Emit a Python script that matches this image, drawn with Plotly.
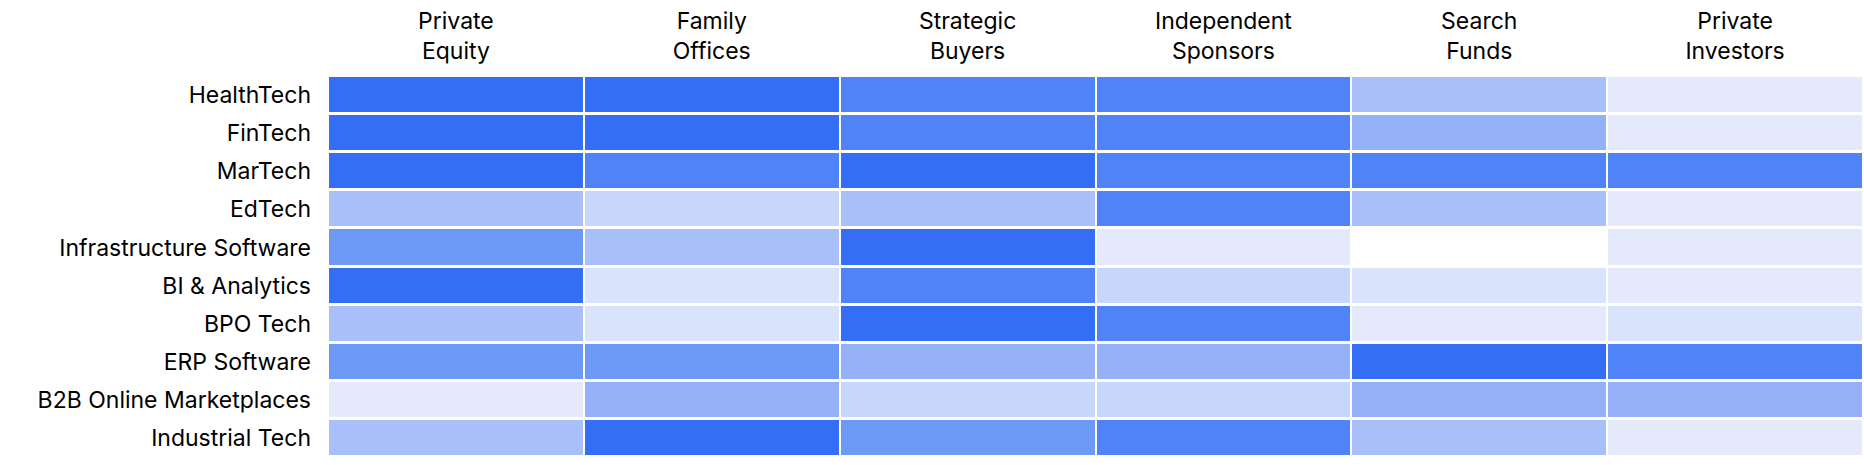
import plotly.graph_objects as go

sectors = ["HealthTech", "FinTech", "MarTech", "EdTech", "Infrastructure Software",
           "BI & Analytics", "BPO Tech", "ERP Software", "B2B Online Marketplaces",
           "Industrial Tech"]
buyers = ["Private<br>Equity", "Family<br>Offices", "Strategic<br>Buyers",
          "Independent<br>Sponsors", "Search<br>Funds", "Private<br>Investors"]

# interest level 0 (none) .. 8 (highest), one row per sector
healthtech = [8, 8, 7, 7, 4, 1]
fintech = [8, 8, 7, 7, 5, 1]
martech = [8, 7, 8, 7, 7, 7]
edtech = [4, 3, 4, 7, 4, 1]
infra_software = [6, 4, 8, 1, 0, 1]
bi_analytics = [8, 2, 7, 3, 2, 1]
bpo_tech = [4, 2, 8, 7, 1, 2]
erp_software = [6, 6, 5, 5, 8, 7]
b2b_marketplaces = [1, 5, 3, 3, 5, 5]
industrial_tech = [4, 8, 6, 7, 4, 1]

levels_colors = ["#FFFFFF", "#E4EAFC", "#D9E4FC", "#C7D6FB", "#A8BFF9",
                 "#94B1F8", "#6C98F6", "#5083F8", "#336EF5"]

z = [healthtech, fintech, martech, edtech, infra_software, bi_analytics,
     bpo_tech, erp_software, b2b_marketplaces, industrial_tech]

n = len(levels_colors) - 1
colorscale = [[i / n, c] for i, c in enumerate(levels_colors)]

fig = go.Figure(go.Heatmap(
    z=z, x=buyers, y=sectors,
    colorscale=colorscale, zmin=0, zmax=n,
    xgap=2, ygap=3, showscale=False, hoverinfo="skip",
))

font = dict(family="Inter, Noto Sans, sans-serif", size=23, color="#000000")
fig.update_layout(
    width=1864, height=465,
    margin=dict(l=328, r=1, t=76, b=8),
    paper_bgcolor="white", plot_bgcolor="white",
    font=font,
)
fig.update_xaxes(side="top", showgrid=False, zeroline=False, showline=False,
                 ticks="", ticklabelstandoff=11, tickfont=font, automargin=False)
fig.update_yaxes(autorange="reversed", showgrid=False, zeroline=False, showline=False,
                 ticks="", ticklabelstandoff=16, tickfont=font, automargin=False)

fig.write_html("out.html",
               config={"displayModeBar": False},
               post_script="document.body.style.margin='0';document.body.style.overflow='hidden';")
